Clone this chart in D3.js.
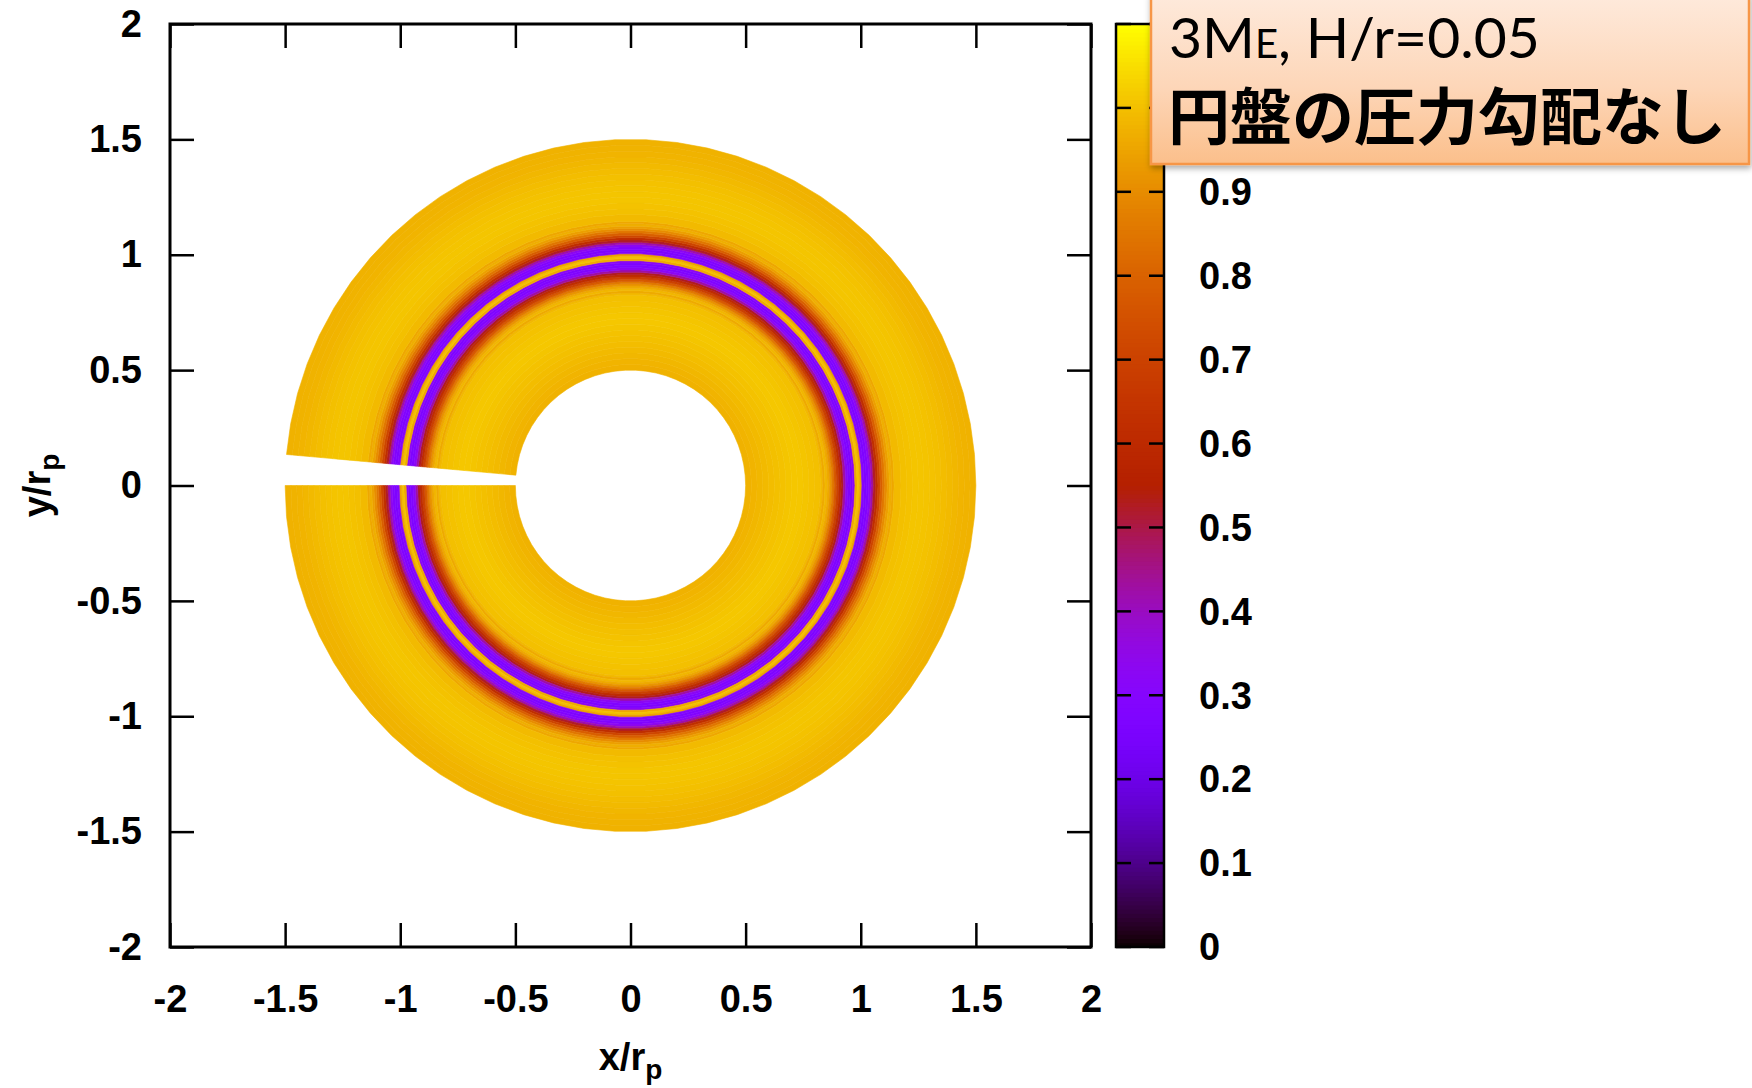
<!DOCTYPE html>
<html>
<head>
<meta charset="utf-8">
<script src="https://cdn.jsdelivr.net/npm/d3@7"></script>
<style>
  html, body { margin: 0; padding: 0; background: #ffffff; }
  svg { display: block; }
  .tick text { font-family: "Liberation Sans", Arial, sans-serif; font-weight: bold; font-size: 38px; fill: #000; }
</style>
</head>
<body>
<script>
// ---- axis ticks ----
const xTicks = [-2, -1.5, -1, -0.5, 0, 0.5, 1, 1.5, 2];
const xTickLabels = ["-2", "-1.5", "-1", "-0.5", "0", "0.5", "1", "1.5", "2"];
const yTicks = [-2, -1.5, -1, -0.5, 0, 0.5, 1, 1.5, 2];
const yTickLabels = ["-2", "-1.5", "-1", "-0.5", "0", "0.5", "1", "1.5", "2"];
// colour bar: ticks run to 1.1, the upper labels sit behind the caption box
const cbTicks = [0, 0.1, 0.2, 0.3, 0.4, 0.5, 0.6, 0.7, 0.8, 0.9, 1.0, 1.1];
const cbLabelTicks = [0, 0.1, 0.2, 0.3, 0.4, 0.5, 0.6, 0.7, 0.8, 0.9];
const cbTickLabels = ["0", "0.1", "0.2", "0.3", "0.4", "0.5", "0.6", "0.7", "0.8", "0.9"];

// ---- surface density, azimuthally averaged, in radial bins (r / r_p) ----
const ringEdges = [
  0.500, 0.525, 0.550, 0.575, 0.600, 0.625, 0.650, 0.675, 0.700, 0.725,
  0.750, 0.775, 0.800, 0.825, 0.835, 0.845, 0.855, 0.865, 0.875, 0.885,
  0.895, 0.905, 0.915, 0.925, 0.935, 0.945, 0.955, 0.965, 0.975, 0.985,
  0.995, 1.005, 1.015, 1.025, 1.035, 1.045, 1.055, 1.065, 1.075, 1.085,
  1.095, 1.105, 1.115, 1.125, 1.135, 1.145, 1.175, 1.200, 1.225, 1.250,
  1.275, 1.300, 1.325, 1.350, 1.375, 1.400, 1.425, 1.450, 1.475, 1.500
];
const ringValues = [
  0.975, 0.980, 0.985, 0.990, 0.995, 1.000, 1.005, 1.010, 1.012,
  1.012, 1.010, 1.005, 1.000, 0.990, 0.960, 0.985, 0.960, 0.920, 0.860,
  0.780, 0.700, 0.620, 0.530, 0.430, 0.330, 0.280, 0.270, 0.320, 0.960,
  1.000, 0.950, 0.300, 0.270, 0.280, 0.330, 0.420, 0.520, 0.620, 0.710,
  0.790, 0.850, 0.900, 0.940, 0.970, 0.955, 0.990, 1.000, 1.005, 1.010,
  1.010, 1.008, 1.005, 1.000, 0.995, 0.990, 0.985, 0.980, 0.978, 0.975
];

// azimuthal mesh: the last cell (just above phi = pi) is not closed
const nPhi = 70;

// ---- layout ----
const W = 1752, H = 1088;
const x = d3.scaleLinear().domain([-2, 2]).range([170, 1091]);
const y = d3.scaleLinear().domain([-2, 2]).range([947, 24]);
const cbY = d3.scaleLinear().domain([0, 1.1]).range([947, 24]);
const cbX0 = 1116, cbX1 = 1164;

// gnuplot rgbformulae 7,5,15 : sqrt(t), t^3, sin(360 t)
const palette = d3.scaleSequential(t => {
  const r = Math.sqrt(t), g = t * t * t, b = Math.max(0, Math.sin(2 * Math.PI * t));
  return d3.rgb(255 * r, 255 * g, 255 * b).formatHex();
}).domain([0, 1.1]).clamp(true);

const svg = d3.select("body").append("svg").attr("width", W).attr("height", H);
const defs = svg.append("defs");

// ---- density map ----
const phiMesh = d3.range(nPhi).map(k => -Math.PI + k * 2 * Math.PI / nPhi);
const line = d3.line().x(d => x(d[0])).y(d => y(d[1]));
const disk = svg.append("g");
ringValues.forEach((v, i) => {
  const r0 = ringEdges[i], r1 = ringEdges[i + 1];
  const outer = phiMesh.map(p => [r1 * Math.cos(p), r1 * Math.sin(p)]);
  const inner = phiMesh.slice().reverse().map(p => [r0 * Math.cos(p), r0 * Math.sin(p)]);
  disk.append("path")
    .attr("d", line(outer.concat(inner)) + "Z")
    .attr("fill", palette(v))
    .attr("stroke", palette(v))
    .attr("stroke-width", 0.6)
    .attr("stroke-linejoin", "round");
});

// ---- axes (ticks drawn inward on all four sides) ----
function styleAxis(g) {
  g.select(".domain").remove();
  g.selectAll(".tick line").attr("stroke", "#000").attr("stroke-width", 2.5);
}
svg.append("g").attr("transform", `translate(0,${y(-2)})`)
  .call(d3.axisBottom(x).tickValues(xTicks).tickFormat((d, i) => xTickLabels[i])
    .tickSizeInner(-24).tickSizeOuter(0).tickPadding(38))
  .call(styleAxis);
svg.append("g").attr("transform", `translate(0,${y(2)})`)
  .call(d3.axisTop(x).tickValues(xTicks).tickFormat("")
    .tickSizeInner(-24).tickSizeOuter(0))
  .call(styleAxis);
svg.append("g").attr("transform", `translate(${x(-2)},0)`)
  .call(d3.axisLeft(y).tickValues(yTicks).tickFormat((d, i) => yTickLabels[i])
    .tickSizeInner(-24).tickSizeOuter(0).tickPadding(28))
  .call(styleAxis);
svg.append("g").attr("transform", `translate(${x(2)},0)`)
  .call(d3.axisRight(y).tickValues(yTicks).tickFormat("")
    .tickSizeInner(-24).tickSizeOuter(0))
  .call(styleAxis);

svg.append("rect")
  .attr("x", x(-2)).attr("y", y(2))
  .attr("width", x(2) - x(-2)).attr("height", y(-2) - y(2))
  .attr("fill", "none").attr("stroke", "#000").attr("stroke-width", 3);

// axis titles
const titleFamily = "'Liberation Sans', Arial, sans-serif";
const xt = svg.append("text")
  .attr("x", x(0)).attr("y", 1070)
  .attr("text-anchor", "middle")
  .style("font-family", titleFamily).style("font-weight", "bold")
  .style("font-size", "38px");
xt.append("tspan").text("x/r");
xt.append("tspan").attr("dy", 9).style("font-size", "28px").text("p");

const yt = svg.append("text")
  .attr("transform", `translate(50,${y(0)}) rotate(-90)`)
  .attr("text-anchor", "middle")
  .style("font-family", titleFamily).style("font-weight", "bold")
  .style("font-size", "38px");
yt.append("tspan").text("y/r");
yt.append("tspan").attr("dy", 9).style("font-size", "28px").text("p");

// ---- colour bar ----
const cb = svg.append("g");
const cbStep = 0.005;
const cbLevels = d3.range(0, 1.1, cbStep);
cb.selectAll("rect.lvl").data(cbLevels).join("rect")
  .attr("class", "lvl")
  .attr("x", cbX0).attr("width", cbX1 - cbX0)
  .attr("y", d => cbY(d + cbStep) - 0.5)
  .attr("height", d => cbY(d) - cbY(d + cbStep) + 1)
  .attr("fill", d => palette(d + cbStep / 2));
cb.append("rect")
  .attr("x", cbX0).attr("y", cbY(1.1))
  .attr("width", cbX1 - cbX0).attr("height", cbY(0) - cbY(1.1))
  .attr("fill", "none").attr("stroke", "#000").attr("stroke-width", 2.5);
cb.selectAll("line.tl").data(cbTicks).join("line")
  .attr("class", "tl")
  .attr("x1", cbX0).attr("x2", cbX0 + 15)
  .attr("y1", d => cbY(d)).attr("y2", d => cbY(d))
  .attr("stroke", "#000").attr("stroke-width", 2.5);
cb.selectAll("line.tr").data(cbTicks).join("line")
  .attr("class", "tr")
  .attr("x1", cbX1 - 15).attr("x2", cbX1)
  .attr("y1", d => cbY(d)).attr("y2", d => cbY(d))
  .attr("stroke", "#000").attr("stroke-width", 2.5);
cb.selectAll("text").data(cbLabelTicks).join("text")
  .attr("x", 1199).attr("y", d => cbY(d)).attr("dy", "0.35em")
  .style("font-family", titleFamily).style("font-weight", "bold")
  .style("font-size", "38px")
  .text((d, i) => cbTickLabels[i]);

// ---- caption box ----
const grad = defs.append("linearGradient").attr("id", "boxFill")
  .attr("x1", 0).attr("y1", 0).attr("x2", 0).attr("y2", 1);
grad.append("stop").attr("offset", "0%").attr("stop-color", "#feeadc");
grad.append("stop").attr("offset", "55%").attr("stop-color", "#fdd6b8");
grad.append("stop").attr("offset", "100%").attr("stop-color", "#fbbf8b");
const shadow = defs.append("filter").attr("id", "boxShadow")
  .attr("x", "-5%").attr("y", "-10%").attr("width", "110%").attr("height", "130%");
shadow.append("feDropShadow").attr("dx", 1).attr("dy", 3)
  .attr("stdDeviation", 3).attr("flood-color", "#000").attr("flood-opacity", 0.35);

svg.append("rect")
  .attr("x", 1151).attr("y", -6).attr("width", 598).attr("height", 170)
  .attr("fill", "url(#boxFill)").attr("stroke", "#f79646").attr("stroke-width", 2.5)
  .attr("filter", "url(#boxShadow)");

const l1 = svg.append("text").attr("x", 1169).attr("y", 58)
  .style("font-family", "Lato, 'Open Sans', sans-serif").style("font-size", "57px").style("fill", "#000");
l1.append("tspan").text("3M");
l1.append("tspan").style("font-size", "40px").text("E");
l1.append("tspan").text(", H/r=0.05");

svg.append("text").attr("x", 1168).attr("y", 140)
  .style("font-family", "'Noto Sans CJK JP', sans-serif").style("font-weight", "bold")
  .style("font-size", "62px").style("fill", "#000")
  .text("円盤の圧力勾配なし");
</script>
</body>
</html>
